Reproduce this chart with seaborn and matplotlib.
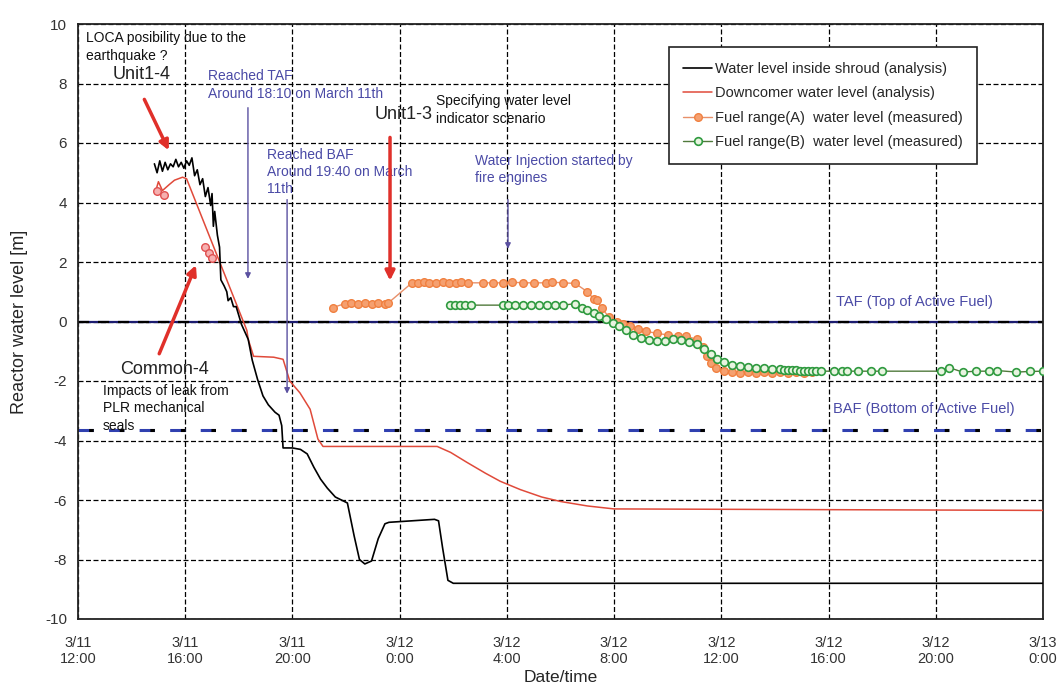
import matplotlib
matplotlib.use("Agg")
import matplotlib.pyplot as plt
import seaborn as sns
import pandas as pd

# ---------------- data (hours since 3/11 12:00, level in m) ----------------
shroud_h = [2.85, 2.95, 3.05, 3.15, 3.25, 3.35, 3.45, 3.55, 3.65, 3.75, 3.85, 3.95,
            4.05, 4.15, 4.25, 4.35, 4.45, 4.55, 4.65, 4.75, 4.85, 4.95, 5.0, 5.05,
            5.1, 5.2, 5.28, 5.33, 5.45, 5.55, 5.6, 5.7, 5.8, 5.9, 6.0, 6.1, 6.2,
            6.35, 6.5, 6.7, 6.9, 7.1, 7.35, 7.5, 7.6, 7.65, 8.0, 8.3, 8.55, 8.8,
            9.05, 9.3, 9.6, 10.05, 10.3, 10.5, 10.7, 10.95, 11.2, 11.45, 11.6,
            13.3, 13.45, 13.6, 13.8, 14.0, 36.0]
shroud_v = [5.3, 5.0, 5.4, 5.05, 5.35, 5.1, 5.3, 5.2, 5.45, 5.2, 5.35, 5.15,
            5.4, 5.25, 5.5, 4.9, 5.1, 4.6, 4.8, 4.2, 4.5, 3.9, 4.3, 3.2,
            3.7, 2.9, 2.5, 1.4, 1.2, 1.0, 0.7, 0.8, 0.5, 0.5, 0.2, -0.1, -0.3,
            -0.6, -1.3, -1.95, -2.5, -2.8, -3.05, -3.15, -3.5, -4.25, -4.25, -4.3, -4.45, -4.9,
            -5.3, -5.6, -5.9, -6.1, -7.2, -8.0, -8.15, -8.05, -7.3, -6.8, -6.75,
            -6.65, -6.7, -7.6, -8.7, -8.8, -8.8]

downcomer_h = [2.87, 3.0, 3.15, 3.4, 3.6, 3.9, 4.05, 6.3, 6.35, 6.55, 7.3, 7.65,
               7.9, 8.28, 8.66, 8.95, 9.14, 13.4, 13.9, 14.5, 15.2, 15.75, 16.5,
               17.3, 18.0, 19.0, 20.0, 36.0]
downcomer_v = [4.3, 4.7, 4.4, 4.6, 4.75, 4.85, 4.8, -0.3, -0.6, -1.17, -1.2, -1.27,
               -2.0, -2.4, -2.95, -3.95, -4.2, -4.2, -4.4, -4.73, -5.1, -5.37, -5.65,
               -5.9, -6.05, -6.2, -6.3, -6.35]

early_h = [2.95, 3.2, 4.75, 4.9, 5.0]
early_v = [4.4, 4.25, 2.5, 2.3, 2.15]

fuelA_h = [9.5, 9.96, 10.2, 10.45, 10.7, 10.95, 11.2, 11.45, 11.57,
           12.46, 12.7, 12.9, 13.1, 13.35, 13.6, 13.85, 14.1, 14.3, 14.55,
           15.1, 15.5, 15.85, 16.2, 16.6, 17.0, 17.45, 17.7, 18.1, 18.55,
           19.0, 19.25, 19.35, 19.55, 19.8, 20.1, 20.35, 20.6, 20.9, 21.2,
           21.6, 22.0, 22.4, 22.7, 23.1, 23.3, 23.45, 23.6, 23.8, 24.1,
           24.4, 24.7, 25.0, 25.3, 25.6, 25.9, 26.2, 26.5, 26.8, 27.1, 27.4]
fuelA_v = [0.47, 0.6, 0.62, 0.6, 0.62, 0.6, 0.62, 0.6, 0.62,
           1.3, 1.3, 1.32, 1.3, 1.3, 1.32, 1.3, 1.3, 1.32, 1.3,
           1.3, 1.3, 1.3, 1.32, 1.3, 1.3, 1.3, 1.32, 1.3, 1.28,
           1.0, 0.75, 0.72, 0.45, 0.15, 0.0, -0.08, -0.15, -0.25, -0.33,
           -0.4, -0.45, -0.5, -0.5, -0.6, -0.85, -1.15, -1.4, -1.55, -1.65,
           -1.7, -1.72, -1.7, -1.72, -1.7, -1.72, -1.7, -1.72, -1.7, -1.72, -1.7]

fuelB_h = [13.88, 14.05, 14.25, 14.45, 14.65,
           15.86, 16.05, 16.3, 16.6, 16.9, 17.2, 17.5, 17.8, 18.1, 18.55,
           18.8, 19.0, 19.25, 19.45, 19.7, 19.95, 20.2, 20.45, 20.7, 21.0,
           21.3, 21.6, 21.9, 22.2, 22.5, 22.8, 23.1, 23.35, 23.6, 23.85,
           24.1, 24.4, 24.7, 25.0, 25.3, 25.6, 25.9, 26.2, 26.35, 26.5, 26.65,
           26.8, 26.95, 27.1, 27.25, 27.4, 27.55, 27.7, 28.2, 28.5, 28.7, 29.1,
           29.6, 30.0, 32.2, 32.5, 33.0, 33.5, 34.0, 34.3, 35.0, 35.5, 36.0]
fuelB_v = [0.55, 0.55, 0.55, 0.55, 0.55,
           0.55, 0.55, 0.55, 0.55, 0.55, 0.55, 0.55, 0.55, 0.55, 0.6,
           0.45, 0.4, 0.3, 0.2, 0.1, -0.05, -0.15, -0.3, -0.45, -0.55,
           -0.62, -0.66, -0.65, -0.6, -0.62, -0.68, -0.77, -0.94, -1.1, -1.25,
           -1.35, -1.45, -1.5, -1.53, -1.55, -1.57, -1.58, -1.6, -1.62, -1.62, -1.63,
           -1.64, -1.65, -1.65, -1.66, -1.66, -1.67, -1.67, -1.67, -1.67, -1.67, -1.67,
           -1.67, -1.67, -1.67, -1.55, -1.7, -1.67, -1.67, -1.65, -1.7, -1.68, -1.67]

taf_level = 0.0
baf_level = -3.66

x_ticks = [0, 4, 8, 12, 16, 20, 24, 28, 32, 36]
x_tick_labels = ["3/11\n12:00", "3/11\n16:00", "3/11\n20:00", "3/12\n0:00", "3/12\n4:00",
                 "3/12\n8:00", "3/12\n12:00", "3/12\n16:00", "3/12\n20:00", "3/13\n0:00"]
y_ticks = [-10, -8, -6, -4, -2, 0, 2, 4, 6, 8, 10]

legend_labels = ["Water level inside shroud (analysis)",
                 "Downcomer water level (analysis)",
                 "Fuel range(A)  water level (measured)",
                 "Fuel range(B)  water level (measured)"]

# ---------------- figure ----------------
sns.set_style("white")
plt.rcParams["font.family"] = ["Liberation Sans", "DejaVu Sans"]

fig = plt.figure(figsize=(10.64, 6.96), dpi=100)
ax = fig.add_axes([78 / 1064, 1 - 619 / 696, (1043 - 78) / 1064, (619 - 24) / 696])

ax.set_xlim(0, 36)
ax.set_ylim(-10, 10)
ax.set_xticks(x_ticks)
ax.set_xticklabels(x_tick_labels, fontsize=10.5, color="#333333")
ax.set_yticks(y_ticks)
ax.set_yticklabels([str(v) for v in y_ticks], fontsize=11, color="#333333")
ax.grid(True, color="black", linestyle=(0, (4, 2)), linewidth=0.9)
ax.set_axisbelow(True)
for s in ax.spines.values():
    s.set_color("#222222")
    s.set_linewidth(1.3)
ax.tick_params(axis="x", length=0, pad=12)
ax.tick_params(axis="y", length=0, pad=8)

# reference lines
ax.axhline(taf_level, color="#1c1c70", lw=1.6, zorder=2)
ax.axhline(taf_level, color="black", lw=1.6, ls=(0, (5, 4)), zorder=2)
ax.axhline(baf_level, color="#3040b0", lw=2.2, ls=(0, (5, 5)), zorder=2)
ax.axhline(baf_level, color="black", lw=2.2, ls=(6.5, (1.5, 8.5)), zorder=2)

df_s = pd.DataFrame({"h": shroud_h, "v": shroud_v})
df_d = pd.DataFrame({"h": downcomer_h, "v": downcomer_v})
df_e = pd.DataFrame({"h": early_h, "v": early_v})
df_a = pd.DataFrame({"h": fuelA_h, "v": fuelA_v})
df_b = pd.DataFrame({"h": fuelB_h, "v": fuelB_v})

sns.lineplot(data=df_d, x="h", y="v", ax=ax, sort=False, estimator=None,
             color="#e04a3a", lw=1.1, label=legend_labels[1], zorder=3)
sns.lineplot(data=df_s, x="h", y="v", ax=ax, sort=False, estimator=None,
             color="black", lw=1.2, label=legend_labels[0], zorder=4)
ax.scatter(df_e["h"], df_e["v"], s=30, facecolor="#f6b0b0", edgecolor="#e05050",
           linewidth=1.0, zorder=5)
sns.lineplot(data=df_a, x="h", y="v", ax=ax, sort=False, estimator=None,
             color="#e8906a", lw=1.0, marker="o", markersize=5.5,
             markerfacecolor="#f5a070", markeredgecolor="#f08040", markeredgewidth=1.0,
             label=legend_labels[2], zorder=5)
sns.lineplot(data=df_b, x="h", y="v", ax=ax, sort=False, estimator=None,
             color="#507a3c", lw=1.0, marker="o", markersize=5.5,
             markerfacecolor="#e8f4e0", markeredgecolor="#2f9a3f", markeredgewidth=1.2,
             label=legend_labels[3], zorder=6)

handles, labels = ax.get_legend_handles_labels()
order = [labels.index(l) for l in legend_labels]
leg = ax.legend([handles[i] for i in order], [labels[i] for i in order],
                loc="upper left", bbox_to_anchor=(0.612, 0.961), fontsize=10.5,
                frameon=True, fancybox=False, edgecolor="#222222", framealpha=1,
                handlelength=2.0, handletextpad=0.15, labelspacing=0.72,
                borderpad=1.0, borderaxespad=0)
leg.get_frame().set_linewidth(1.2)

ax.set_xlabel("Date/time", fontsize=12.5, labelpad=3)
ax.set_ylabel("Reactor water level [m]", fontsize=13, labelpad=12)

blue = "#4a4aa6"
red = "#e0302a"
arrow_purple = "#5a50a0"

ax.text(0.30, 9.77, "LOCA posibility due to the\nearthquake ?", fontsize=10,
        va="top", ha="left", linespacing=1.35, color="#111111")
ax.text(1.31, 8.29, "Unit1-4", fontsize=13, va="center", ha="left", color="#222222")
ax.annotate("", xy=(3.43, 5.67), xytext=(2.43, 7.55),
            arrowprops=dict(arrowstyle="-|>", color=red, lw=2.5, mutation_scale=14))

ax.text(4.85, 7.95, "Reached TAF\nAround 18:10 on March 11th", fontsize=10,
        va="center", ha="left", color=blue, linespacing=1.3)
ax.annotate("", xy=(6.34, 1.34), xytext=(6.34, 7.28),
            arrowprops=dict(arrowstyle="-|>", color=arrow_purple, lw=1.0, mutation_scale=8))

ax.text(7.05, 5.03, "Reached BAF\nAround 19:40 on March\n11th", fontsize=10,
        va="center", ha="left", color=blue, linespacing=1.3)
ax.annotate("", xy=(7.8, -2.52), xytext=(7.8, 4.19),
            arrowprops=dict(arrowstyle="-|>", color=arrow_purple, lw=1.0, mutation_scale=8))

ax.text(11.08, 6.95, "Unit1-3", fontsize=13, va="center", ha="left", color="#222222")
ax.annotate("", xy=(11.64, 1.28), xytext=(11.64, 6.28),
            arrowprops=dict(arrowstyle="-|>", color=red, lw=2.5, mutation_scale=14))
ax.text(13.36, 7.11, "Specifying water level\nindicator scenario", fontsize=10,
        va="center", ha="left", color="#111111", linespacing=1.3)

ax.text(14.81, 5.10, "Water Injection started by\nfire engines", fontsize=10,
        va="center", ha="left", color=blue, linespacing=1.3)
ax.annotate("", xy=(16.04, 2.35), xytext=(16.04, 4.19),
            arrowprops=dict(arrowstyle="-|>", color=arrow_purple, lw=1.0, mutation_scale=8))

ax.text(1.57, -1.61, "Common-4", fontsize=13, va="center", ha="left", color="#222222")
ax.annotate("", xy=(4.44, 1.98), xytext=(2.99, -1.17),
            arrowprops=dict(arrowstyle="-|>", color=red, lw=2.5, mutation_scale=14))
ax.text(0.93, -2.92, "Impacts of leak from\nPLR mechanical\nseals", fontsize=10,
        va="center", ha="left", color="#111111", linespacing=1.3)

ax.text(28.28, 0.64, "TAF (Top of Active Fuel)", fontsize=10.5, va="center",
        ha="left", color=blue)
ax.text(28.17, -2.95, "BAF (Bottom of Active Fuel)", fontsize=10.5, va="center",
        ha="left", color=blue)

fig.savefig("out.png", dpi=100)
